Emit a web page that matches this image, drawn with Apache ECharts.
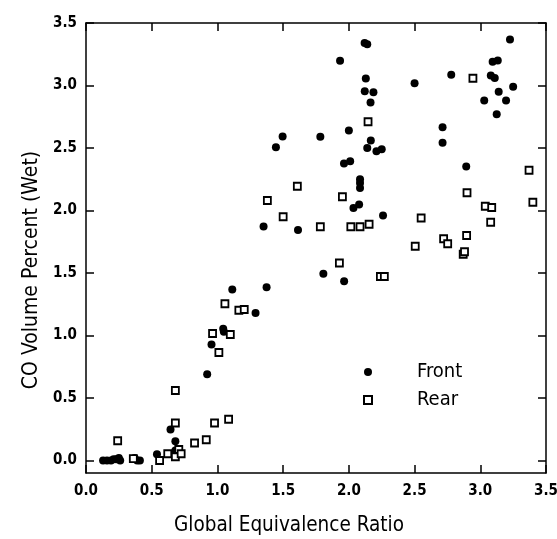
<!DOCTYPE html>
<html>
<head>
<meta charset="utf-8">
<script src="https://cdn.jsdelivr.net/npm/echarts@6/dist/echarts.min.js"></script>
<style>html,body{margin:0;padding:0;background:#fff}#c{width:557px;height:539px}</style>
</head>
<body>
<div id="c"></div>
<script>
const xTicks = [0, 0.5, 1.0, 1.5, 2.0, 2.5, 3.0, 3.5];
const yTicks = [0, 0.5, 1.0, 1.5, 2.0, 2.5, 3.0, 3.5];
const seriesNames = ['Front', 'Rear'];
const front = [
  [0.13,0.0],[0.16,0.0],[0.19,0.0],[0.21,0.01],[0.23,0.01],[0.25,0.02],[0.26,0.0],
  [0.37,0.02],[0.39,0.0],[0.41,0.0],
  [0.54,0.05],[0.643,0.248],[0.68,0.155],[0.68,0.08],
  [0.922,0.69],[0.955,0.928],[1.044,1.054],[1.049,1.03],[1.113,1.368],[1.29,1.18],[1.374,1.386],
  [1.351,1.872],[1.445,2.506],[1.496,2.592],[1.613,1.845],
  [1.783,2.59],[1.806,1.494],[1.933,3.198],[1.964,1.434],[1.963,2.376],[2.01,2.394],[2.0,2.64],
  [2.035,2.02],[2.078,2.048],[2.085,2.25],[2.085,2.22],[2.085,2.18],
  [2.12,3.34],[2.14,3.33],[2.129,3.056],[2.121,2.955],[2.187,2.946],[2.165,2.864],
  [2.167,2.56],[2.14,2.50],[2.21,2.474],[2.25,2.49],[2.26,1.96],
  [2.50,3.018],[2.713,2.666],[2.713,2.542],[2.779,3.086],[2.893,2.352],
  [3.03,2.88],[3.08,3.08],[3.11,3.06],[3.094,3.19],[3.133,3.20],[3.125,2.77],[3.14,2.95],[3.196,2.88],[3.226,3.368],[3.25,2.99]
];
const rear = [
  [0.241,0.158],[0.36,0.015],[0.56,0.0],[0.622,0.054],[0.68,0.03],[0.706,0.088],[0.724,0.054],[0.68,0.30],[0.68,0.56],[0.826,0.14],[0.915,0.166],[0.978,0.30],[1.085,0.33],
  [0.963,1.016],[1.011,0.864],[1.057,1.254],[1.098,1.008],[1.163,1.202],[1.204,1.208],
  [1.38,2.08],[1.50,1.95],[1.608,2.194],[1.783,1.87],[1.928,1.58],[1.951,2.11],
  [2.015,1.87],[2.085,1.87],[2.154,1.89],[2.146,2.71],[2.24,1.472],[2.27,1.472],
  [2.505,1.714],[2.55,1.94],[2.721,1.774],[2.752,1.734],[2.87,1.65],[2.88,1.67],[2.896,1.80],[2.899,2.142],[2.944,3.058],[3.038,2.034],[3.087,2.024],[3.079,1.906],[3.371,2.322],[3.40,2.066]
];

const FONT = '"DejaVu Sans Condensed", "DejaVu Sans", sans-serif';
const lineStyle = { color: '#000', width: 1.5 };
const tickStyle = { show: true, inside: true, length: 8, lineStyle: { color: '#000', width: 1.5 } };

const chart = echarts.init(document.getElementById('c'), null, { renderer: 'canvas' });
chart.setOption({
  animation: false,
  backgroundColor: '#fff',
  grid: { left: 86, right: 11, top: 23, bottom: 66, containLabel: false, outerBoundsMode: 'none' },
  legend: {
    orient: 'vertical',
    left: 358, top: 357,
    itemWidth: 8, itemHeight: 8, itemGap: 8,
    data: seriesNames,
    textStyle: { fontFamily: FONT, fontSize: 20, color: '#000', padding: [0, 0, 0, 40] }
  },
  xAxis: [{
    type: 'value', min: 0, max: 3.5, interval: 0.5, position: 'bottom',
    name: 'Global Equivalence Ratio', nameLocation: 'middle', nameGap: 42,
    nameTextStyle: { fontFamily: FONT, fontSize: 20.5, color: '#000', padding: [0, 54, 0, 0] },
    axisLine: { show: true, onZero: false, lineStyle: lineStyle },
    axisTick: tickStyle,
    axisLabel: { margin: 11, fontFamily: FONT, fontSize: 15, fontWeight: 'bold', color: '#000',
      customValues: xTicks, formatter: v => v.toFixed(1) },
    splitLine: { show: false }
  }, {
    type: 'value', min: 0, max: 3.5, interval: 0.5, position: 'top',
    axisLine: { show: true, onZero: false, lineStyle: lineStyle },
    axisTick: tickStyle,
    axisLabel: { show: false },
    splitLine: { show: false }
  }],
  yAxis: [{
    type: 'value', min: -0.1, max: 3.5, position: 'left',
    name: 'CO Volume Percent (Wet)', nameLocation: 'middle', nameGap: 22,
    nameTextStyle: { fontFamily: FONT, fontSize: 21, color: '#000', padding: [0, 44, 0, 0] },
    axisLine: { show: true, onZero: false, lineStyle: lineStyle },
    axisTick: Object.assign({}, tickStyle, { customValues: yTicks }),
    axisLabel: { margin: 9, fontFamily: FONT, fontSize: 15, fontWeight: 'bold', color: '#000',
      customValues: yTicks, formatter: v => v.toFixed(1) },
    splitLine: { show: false }
  }, {
    type: 'value', min: -0.1, max: 3.5, position: 'right',
    axisLine: { show: true, onZero: false, lineStyle: lineStyle },
    axisTick: Object.assign({}, tickStyle, { customValues: yTicks }),
    axisLabel: { show: false },
    splitLine: { show: false }
  }],
  series: [{
    name: seriesNames[0], type: 'scatter', data: front,
    symbol: 'circle', symbolSize: 8,
    itemStyle: { color: '#000', opacity: 1 }
  }, {
    name: seriesNames[1], type: 'scatter', data: rear,
    symbol: 'rect', symbolSize: 7,
    itemStyle: { color: '#fff', borderColor: '#000', borderWidth: 1.8, opacity: 1 }
  }]
});
</script>
</body>
</html>
